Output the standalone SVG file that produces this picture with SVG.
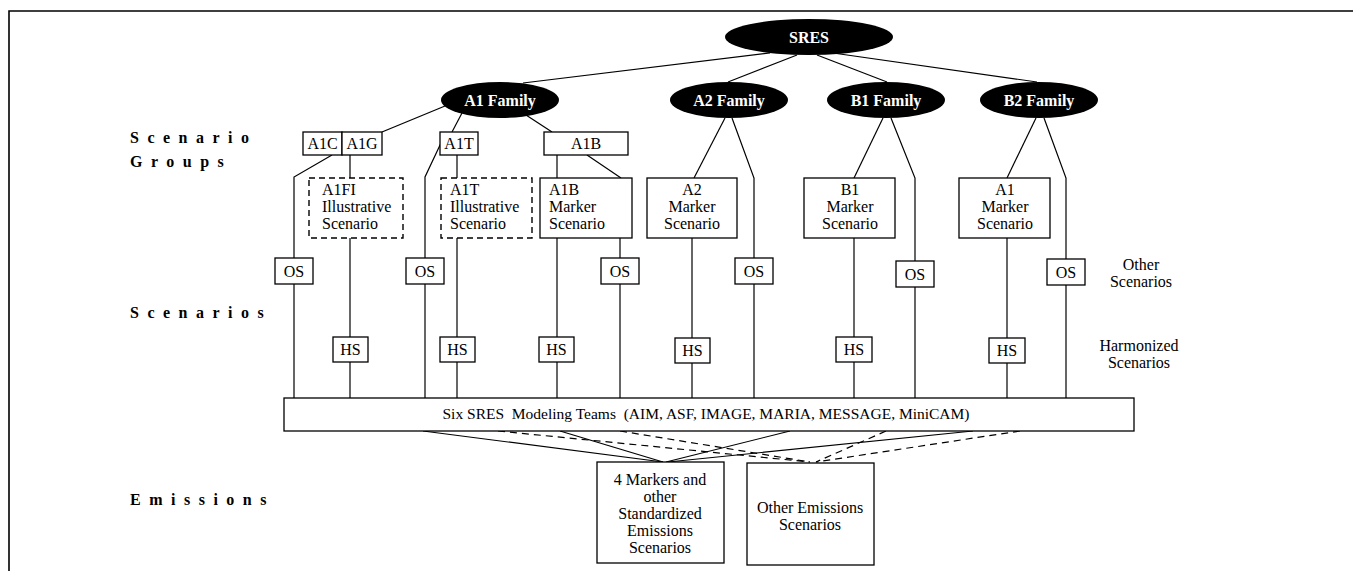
<svg xmlns="http://www.w3.org/2000/svg" width="1353" height="571" viewBox="0 0 1353 571">
<style>
.bg{fill:#fff}
.frame{stroke:#000;stroke-width:1.6;fill:none}
.ell{fill:#000}
.et{font-family:"Liberation Serif",serif;font-weight:bold;font-size:16px;fill:#fff;text-anchor:middle}
.box{fill:#fff;stroke:#000;stroke-width:1.3}
.dbox{fill:#fff;stroke:#000;stroke-width:1.4;stroke-dasharray:6,4}
.t{font-family:"Liberation Serif",serif;font-size:16px;fill:#000}
.c{text-anchor:middle}
.lab{font-family:"Liberation Serif",serif;font-weight:bold;font-size:16px;letter-spacing:8.5px;fill:#000}
.ln{stroke:#000;stroke-width:1.2;fill:none}
.dl{stroke:#000;stroke-width:1.2;fill:none;stroke-dasharray:7,5}
</style>
<rect class="bg" x="0" y="0" width="1353" height="571"/>
<path class="frame" d="M9,571 V11 H1353"/>

<g id="labels">
<text class="lab" x="130" y="143">Scenario</text>
<text class="lab" x="130" y="167">Groups</text>
<text class="lab" x="130" y="318">Scenarios</text>
<text class="lab" x="130" y="505">Emissions</text>
<text class="t c" x="1141" y="270">Other</text>
<text class="t c" x="1141" y="287">Scenarios</text>
<text class="t c" x="1139" y="351">Harmonized</text>
<text class="t c" x="1139" y="368">Scenarios</text>
</g>

<g id="connectors">
<line class="ln" x1="770" y1="53" x2="523" y2="83"/>
<line class="ln" x1="797" y1="55" x2="728" y2="82"/>
<line class="ln" x1="817" y1="55" x2="887" y2="82"/>
<line class="ln" x1="833" y1="53" x2="1037" y2="82"/>
<line class="ln" x1="445" y1="106" x2="382" y2="132"/>
<line class="ln" x1="462" y1="113" x2="452" y2="132"/>
<line class="ln" x1="526" y1="115" x2="552" y2="132"/>
<polyline class="ln" points="332,155 294,177 294,398"/>
<line class="ln" x1="350" y1="155" x2="350" y2="178"/>
<line class="ln" x1="350" y1="238" x2="350" y2="398"/>
<polyline class="ln" points="441,143 425,177 425,398"/>
<line class="ln" x1="457" y1="155" x2="457" y2="178"/>
<line class="ln" x1="457" y1="238" x2="457" y2="398"/>
<line class="ln" x1="557" y1="155" x2="557" y2="178"/>
<line class="ln" x1="587" y1="155" x2="621" y2="178"/>
<line class="ln" x1="557" y1="238" x2="557" y2="398"/>
<line class="ln" x1="620" y1="238" x2="620" y2="398"/>
<line class="ln" x1="725" y1="118" x2="694" y2="178"/>
<polyline class="ln" points="732,118 754,178 754,398"/>
<line class="ln" x1="692" y1="238" x2="692" y2="398"/>
<line class="ln" x1="883" y1="118" x2="854" y2="178"/>
<polyline class="ln" points="891,118 915,178 915,398"/>
<line class="ln" x1="854" y1="238" x2="854" y2="398"/>
<line class="ln" x1="1036" y1="118" x2="1007" y2="178"/>
<polyline class="ln" points="1044,118 1066,178 1066,398"/>
<line class="ln" x1="1007" y1="238" x2="1007" y2="398"/>
<line class="ln" x1="423" y1="431" x2="663" y2="462"/>
<line class="ln" x1="560" y1="431" x2="663" y2="462"/>
<line class="ln" x1="790" y1="431" x2="666" y2="462"/>
<line class="ln" x1="973" y1="431" x2="668" y2="462"/>
<line class="dl" x1="498" y1="431" x2="810" y2="462"/>
<line class="dl" x1="620" y1="431" x2="810" y2="462"/>
<line class="dl" x1="886" y1="431" x2="816" y2="462"/>
<line class="dl" x1="1020" y1="431" x2="816" y2="462"/>
</g>

<g id="sres"><ellipse class="ell" cx="809" cy="37" rx="84" ry="18"/><text class="et" x="809" y="43">SRES</text></g>
<g id="a1family"><ellipse class="ell" cx="500" cy="100" rx="59" ry="18"/><text class="et" x="500" y="106">A1 Family</text></g>
<g id="a2family"><ellipse class="ell" cx="729" cy="100" rx="59" ry="18"/><text class="et" x="729" y="106">A2 Family</text></g>
<g id="b1family"><ellipse class="ell" cx="886" cy="100" rx="59" ry="18"/><text class="et" x="886" y="106">B1 Family</text></g>
<g id="b2family"><ellipse class="ell" cx="1039" cy="100" rx="59" ry="18"/><text class="et" x="1039" y="106">B2 Family</text></g>

<g id="a1c"><rect class="box" x="303" y="132" width="39" height="23"/><text class="t c" x="322.5" y="149">A1C</text></g>
<g id="a1g"><rect class="box" x="342" y="132" width="40" height="23"/><text class="t c" x="362" y="149">A1G</text></g>
<g id="a1t-group"><rect class="box" x="440" y="132" width="38" height="23"/><text class="t c" x="459" y="149">A1T</text></g>
<g id="a1b-group"><rect class="box" x="544" y="132" width="84" height="23"/><text class="t c" x="586" y="149">A1B</text></g>

<g id="a1fi"><rect class="dbox" x="309" y="178" width="94" height="60"/><text class="t" x="322" y="195">A1FI</text><text class="t" x="322" y="212">Illustrative</text><text class="t" x="322" y="229">Scenario</text></g>
<g id="a1t"><rect class="dbox" x="441" y="178" width="91" height="60"/><text class="t" x="450" y="195">A1T</text><text class="t" x="450" y="212">Illustrative</text><text class="t" x="450" y="229">Scenario</text></g>
<g id="a1b"><rect class="box" x="540" y="178" width="92" height="60"/><text class="t" x="549" y="195">A1B</text><text class="t" x="549" y="212">Marker</text><text class="t" x="549" y="229">Scenario</text></g>
<g id="a2"><rect class="box" x="647" y="178" width="90" height="60"/><text class="t c" x="692" y="195">A2</text><text class="t c" x="692" y="212">Marker</text><text class="t c" x="692" y="229">Scenario</text></g>
<g id="b1"><rect class="box" x="804" y="178" width="91" height="60"/><text class="t c" x="850" y="195">B1</text><text class="t c" x="850" y="212">Marker</text><text class="t c" x="850" y="229">Scenario</text></g>
<g id="a1-b2"><rect class="box" x="959" y="178" width="91" height="60"/><text class="t c" x="1005" y="195">A1</text><text class="t c" x="1005" y="212">Marker</text><text class="t c" x="1005" y="229">Scenario</text></g>

<g id="os1"><rect class="box" x="275" y="258" width="38" height="26"/><text class="t c" x="294" y="277">OS</text></g>
<g id="os2"><rect class="box" x="406" y="258" width="38" height="26"/><text class="t c" x="425" y="277">OS</text></g>
<g id="os3"><rect class="box" x="601" y="258" width="38" height="26"/><text class="t c" x="620" y="277">OS</text></g>
<g id="os4"><rect class="box" x="735" y="258" width="38" height="26"/><text class="t c" x="754" y="277">OS</text></g>
<g id="os5"><rect class="box" x="896" y="261" width="38" height="26"/><text class="t c" x="915" y="280">OS</text></g>
<g id="os6"><rect class="box" x="1047" y="259" width="38" height="26"/><text class="t c" x="1066" y="278">OS</text></g>

<g id="hs1"><rect class="box" x="333" y="337" width="35" height="25"/><text class="t c" x="350.5" y="355">HS</text></g>
<g id="hs2"><rect class="box" x="440" y="337" width="35" height="25"/><text class="t c" x="457.5" y="355">HS</text></g>
<g id="hs3"><rect class="box" x="539" y="337" width="35" height="25"/><text class="t c" x="556.5" y="355">HS</text></g>
<g id="hs4"><rect class="box" x="675" y="338" width="35" height="25"/><text class="t c" x="692.5" y="356">HS</text></g>
<g id="hs5"><rect class="box" x="836" y="337" width="36" height="25"/><text class="t c" x="854" y="355">HS</text></g>
<g id="hs6"><rect class="box" x="989" y="338" width="36" height="25"/><text class="t c" x="1007" y="356">HS</text></g>

<g id="modeling"><rect class="box" x="284" y="398" width="850" height="33"/><text class="t c" x="706" y="419" style="font-size:15.5px;white-space:pre">Six SRES  Modeling Teams  (AIM, ASF, IMAGE, MARIA, MESSAGE, MiniCAM)</text></g>

<g id="markers"><rect class="box" x="597" y="462" width="127" height="101"/><text class="t c" x="660" y="485">4 Markers and</text><text class="t c" x="660" y="502">other</text><text class="t c" x="660" y="519">Standardized</text><text class="t c" x="660" y="536">Emissions</text><text class="t c" x="660" y="553">Scenarios</text></g>
<g id="other-emissions"><rect class="box" x="747" y="463" width="127" height="102"/><text class="t c" x="810" y="513">Other Emissions</text><text class="t c" x="810" y="530">Scenarios</text></g>
</svg>
